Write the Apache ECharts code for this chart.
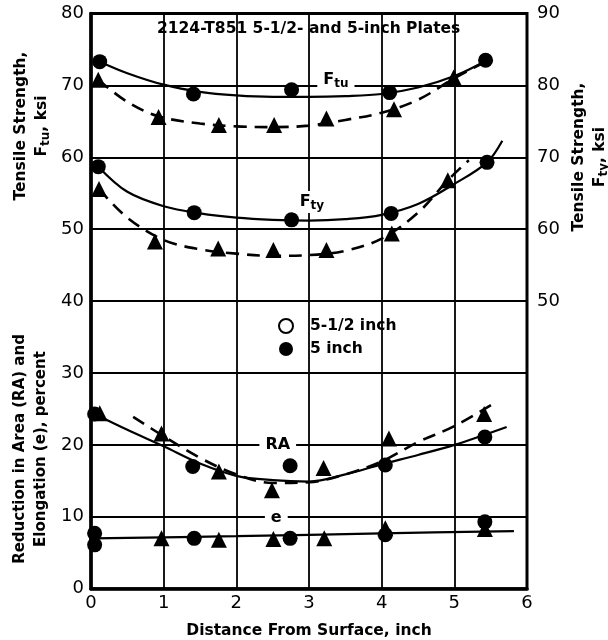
<!DOCTYPE html>
<html><head><meta charset="utf-8">
<script src="https://cdn.jsdelivr.net/npm/echarts@6/dist/echarts.min.js"></script>
<style>html,body{margin:0;padding:0;background:#fff}#c{width:608px;height:640px}</style>
</head><body><div id="c"></div>
<script>
const chartTitle = '2124-T851 5-1/2- and 5-inch Plates';
const xName = 'Distance From Surface, inch';
const leftTopName = 'Tensile Strength,\nF{s|tu}, ksi';
const leftBottomName = 'Reduction in Area (RA) and\nElongation (e), percent';
const rightName = 'Tensile Strength,\nF{s|ty}, ksi';
const legendNames = ['5-1/2 inch', '5 inch'];
const rightLabelMin = 50;

// measured points [distance, value] -- circles (5 inch), triangles (5-1/2 inch)
const ftu5  = [[0.12,73.3],[1.41,68.8],[2.76,69.4],[4.11,69.0],[5.43,73.5]];
const ftu55 = [[0.10,70.8],[0.93,65.6],[1.76,64.5],[2.52,64.5],[3.24,65.4],[4.17,66.7],[4.99,71.1]];
const fty5  = [[0.10,58.7],[1.42,52.3],[2.76,51.3],[4.13,52.2],[5.45,59.3]];
const fty55 = [[0.11,55.6],[0.88,48.3],[1.75,47.3],[2.51,47.1],[3.24,47.1],[4.14,49.4],[4.91,56.8]];
const ra5   = [[0.05,24.3],[1.40,17.0],[2.74,17.1],[4.05,17.2],[5.42,21.1]];
const ra55  = [[0.12,24.4],[0.97,21.6],[1.76,16.3],[2.49,13.7],[3.20,16.8],[4.10,20.9],[5.41,24.3]];
const el5   = [[0.05,7.7],[0.05,6.1],[1.42,7.0],[2.74,7.0],[4.05,7.5],[5.42,9.3]];
const el55  = [[0.97,7.0],[1.76,6.8],[2.51,6.9],[3.21,7.0],[4.05,8.4],[5.42,8.3]];

// faired curves
const ftuCurve5  = [[0.12,73.3],[0.5,71.7],[1,70.1],[1.5,69.1],[2,68.6],[2.5,68.4],[3,68.4],[3.5,68.5],[4,68.8],[4.5,69.7],[5,71.3],[5.43,73.4]];
const ftuCurve55 = [[0.10,70.8],[0.5,67.7],[0.93,65.7],[1.5,64.7],[2,64.3],[2.5,64.2],[3,64.4],[3.5,65.2],[4,66.2],[4.5,68.0],[5,71.0],[5.43,73.3]];
const ftyCurve5  = [[0.10,58.7],[0.5,55.2],[1,53.2],[1.5,52.2],[2,51.6],[2.5,51.3],[3,51.2],[3.5,51.4],[4,52.0],[4.5,53.5],[5,56.3],[5.45,59.3],[5.66,62.3]];
const ftyCurve55 = [[0.11,55.6],[0.5,51.6],[1,48.5],[1.5,47.2],[2,46.6],[2.5,46.3],[3,46.4],[3.5,47.0],[4,48.7],[4.5,52.3],[4.91,56.8],[5.2,59.6]];
const raCurve5   = [[0.05,24.3],[0.5,22.1],[1,19.8],[1.5,17.4],[2,15.7],[2.5,15.1],[3,14.9],[3.5,15.9],[4,17.3],[4.5,18.6],[5,20.0],[5.72,22.5]];
const raCurve55  = [[0.58,23.9],[1,21.2],[1.5,18.2],[2,15.9],[2.5,14.7],[3,14.8],[3.5,15.9],[4,17.7],[4.5,20.4],[5,22.6],[5.58,26.0]];
const elCurve    = [[0.03,7.0],[2,7.3],[4,7.7],[5.82,8.0]];

// curve annotations [distance, value, text]
const curveLabels = [[3.37,70.75,'F{s|tu}'],[3.04,53.8,'F{s|ty}'],[2.57,20.0,'RA'],[2.55,9.8,'e']];

const FONT = 'DejaVu Sans';
const BOLD = {fontFamily: FONT, fontWeight: 'bold', color: '#000'};
const TITLE_FONT = 'bold 15.5px "DejaVu Sans"';

function curve(name, data, dashed) {
  return {name, type: 'line', data, smooth: 0.35, symbol: 'none', silent: true, z: 2,
    lineStyle: {color: '#000', width: dashed ? 2.6 : 2.2, type: dashed ? [13, 8] : 'solid', opacity: 1}};
}
function marks(name, data, tri) {
  return {name, type: 'scatter', data, symbol: tri ? 'triangle' : 'circle',
    symbolSize: tri ? 16 : 15, itemStyle: {color: '#000', opacity: 1}, z: 4, silent: true};
}

const chart = echarts.init(document.getElementById('c'), null, {renderer: 'canvas'});
chart.setOption({
  animation: false,
  backgroundColor: '#fff',
  title: {text: chartTitle, left: 157, top: 21, padding: 0,
    textStyle: Object.assign({fontSize: 15.5}, BOLD)},
  legend: {left: 278, top: 318, orient: 'vertical', padding: 0, itemGap: 7,
    itemWidth: 14, itemHeight: 14, selectedMode: false,
    textStyle: Object.assign({fontSize: 15.5, padding: [0, 0, 0, 12]}, BOLD),
    data: [
      {name: legendNames[0], icon: 'circle', itemStyle: {color: '#fff', borderColor: '#000', borderWidth: 2, opacity: 1}},
      {name: legendNames[1], icon: 'circle', itemStyle: {color: '#000', borderWidth: 0, opacity: 1}}
    ]},
  grid: {left: 91, right: 81, top: 13.5, bottom: 51.3, show: true, borderColor: '#000', borderWidth: 3,
    outerBoundsMode: 'none', containLabel: false},
  xAxis: {type: 'value', min: 0, max: 6, interval: 1,
    name: xName, nameLocation: 'middle', nameGap: 34,
    nameTextStyle: Object.assign({fontSize: 15.5}, BOLD),
    axisLine: {show: true, lineStyle: {color: '#000', width: 3.5}},
    axisTick: {show: false},
    axisLabel: {fontFamily: FONT, fontSize: 18, color: '#000', margin: 6},
    splitLine: {show: true, lineStyle: {color: '#000', width: 1.8}}},
  yAxis: [
    {type: 'value', min: 0, max: 80, interval: 10,
      axisLine: {show: true, lineStyle: {color: '#000', width: 3.5}},
      axisTick: {show: false},
      axisLabel: {fontFamily: FONT, fontSize: 18, color: '#000', margin: 7},
      splitLine: {show: true, lineStyle: {color: '#000', width: 1.8}}},
    {type: 'value', position: 'right', min: 10, max: 90, interval: 10,
      axisLine: {show: false}, axisTick: {show: false}, splitLine: {show: false},
      axisLabel: {fontFamily: FONT, fontSize: 18, color: '#000', margin: 10,
        formatter: v => (v >= rightLabelMin ? String(v) : '')}}
  ],
  graphic: [
    {type: 'text', x: 31, y: 126, rotation: Math.PI / 2, z: 10,
      style: {text: leftTopName, fill: '#000', font: TITLE_FONT,
        align: 'center', verticalAlign: 'middle', textAlign: 'center', textVerticalAlign: 'middle', lineHeight: 21,
        rich: {s: {fontSize: 12, fontWeight: 'bold', fontFamily: FONT, padding: [8, 0, 0, 0]}}}},
    {type: 'text', x: 31, y: 449, rotation: Math.PI / 2, z: 10,
      style: {text: leftBottomName, fill: '#000', font: 'bold 15px "DejaVu Sans"',
        align: 'center', verticalAlign: 'middle', textAlign: 'center', textVerticalAlign: 'middle', lineHeight: 21}},
    {type: 'text', x: 589, y: 157, rotation: Math.PI / 2, z: 10,
      style: {text: rightName, fill: '#000', font: TITLE_FONT,
        align: 'center', verticalAlign: 'middle', textAlign: 'center', textVerticalAlign: 'middle', lineHeight: 21,
        rich: {s: {fontSize: 12, fontWeight: 'bold', fontFamily: FONT, padding: [8, 0, 0, 0]}}}}
  ],
  series: [
    curve('Ftu curve 5 inch', ftuCurve5, false),
    curve('Ftu curve 5-1/2 inch', ftuCurve55, true),
    curve('Fty curve 5 inch', ftyCurve5, false),
    curve('Fty curve 5-1/2 inch', ftyCurve55, true),
    curve('RA curve 5 inch', raCurve5, false),
    curve('RA curve 5-1/2 inch', raCurve55, true),
    curve('e curve', elCurve, false),
    marks(legendNames[1], ftu5, false),
    marks(legendNames[0], ftu55, true),
    marks(legendNames[1], fty5, false),
    marks(legendNames[0], fty55, true),
    marks(legendNames[1], ra5, false),
    marks(legendNames[0], ra55, true),
    marks(legendNames[1], el5, false),
    marks(legendNames[0], el55, true),
    {name: 'curve labels', type: 'scatter', data: curveLabels, symbolSize: 1, silent: true, z: 6,
      itemStyle: {color: 'rgba(0,0,0,0)', opacity: 1},
      label: {show: true, position: 'inside', formatter: p => p.data[2],
        fontFamily: FONT, fontWeight: 'bold', fontSize: 16, color: '#000', opacity: 1,
        backgroundColor: '#fff', padding: [1, 6],
        rich: {s: {fontFamily: FONT, fontWeight: 'bold', fontSize: 12, color: '#000', padding: [8, 0, 0, 0]}}}}
  ]
});
</script></body></html>
